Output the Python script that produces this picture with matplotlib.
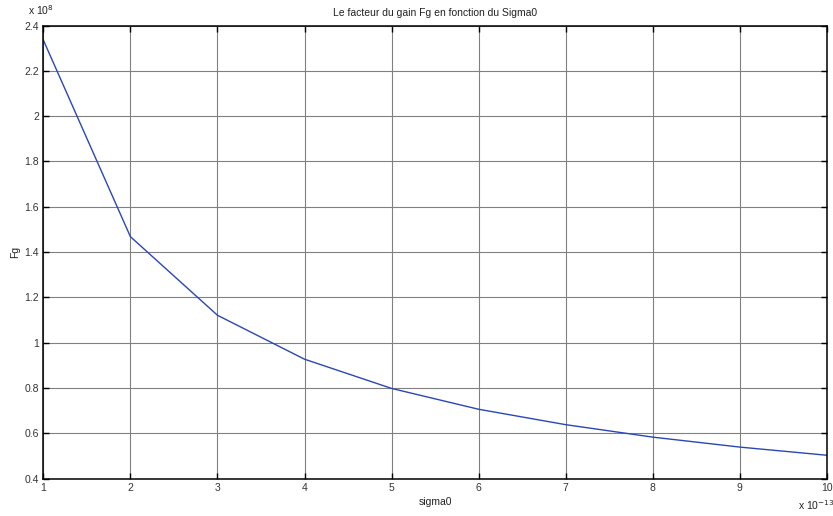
import matplotlib.pyplot as plt
from matplotlib.ticker import FixedLocator, FixedFormatter

# Data (x in units of 1e-13, y in units of 1e8)
sigma0 = [1, 2, 3, 4, 5, 6, 7, 8, 9, 10]
fg = [2.336, 1.468, 1.121, 0.927, 0.798, 0.706, 0.638, 0.583, 0.539, 0.503]

xticks = [1, 2, 3, 4, 5, 6, 7, 8, 9, 10]
yticks = [0.4, 0.6, 0.8, 1.0, 1.2, 1.4, 1.6, 1.8, 2.0, 2.2, 2.4]
ytick_labels = ['0.4', '0.6', '0.8', '1', '1.2', '1.4', '1.6', '1.8', '2', '2.2', '2.4']

plt.rcParams['font.family'] = ['Liberation Sans', 'DejaVu Sans']

fig = plt.figure(figsize=(8.33, 5.16), dpi=100)
ax = fig.add_axes([0.052, 0.0725, 0.9408, 0.878])

ax.plot(sigma0, fg, color='#2a46b8', linewidth=1.0)

ax.set_xlim(1, 10)
ax.set_ylim(0.4, 2.4)
ax.xaxis.set_major_locator(FixedLocator(xticks))
ax.yaxis.set_major_locator(FixedLocator(yticks))
ax.yaxis.set_major_formatter(FixedFormatter(ytick_labels))

ax.grid(True, color='0.5', linewidth=0.8)
ax.tick_params(direction='in', length=4, width=1, top=True, right=True,
               labelsize=7.5, labelcolor='#333333', pad=3)
for sp in ax.spines.values():
    sp.set_linewidth(1.1)
    sp.set_color('black')

ax.set_title('Le facteur du gain Fg en fonction du Sigma0', fontsize=7.5, pad=7,
             color='#222222')
ax.set_xlabel('sigma0', fontsize=7.5, labelpad=3, color='#222222')
ax.set_ylabel('Fg', fontsize=7.5, labelpad=3, color='#222222')

# MATLAB-style exponent labels
fig.text(0.034, 0.967, r'x 10$^{8}$', fontsize=7.5, ha='left', va='bottom',
         color='#222222')
fig.text(0.958, 0.008, r'x 10$^{-13}$', fontsize=7.5, ha='left', va='bottom',
         color='#222222')

fig.savefig('out.png', dpi=100)
